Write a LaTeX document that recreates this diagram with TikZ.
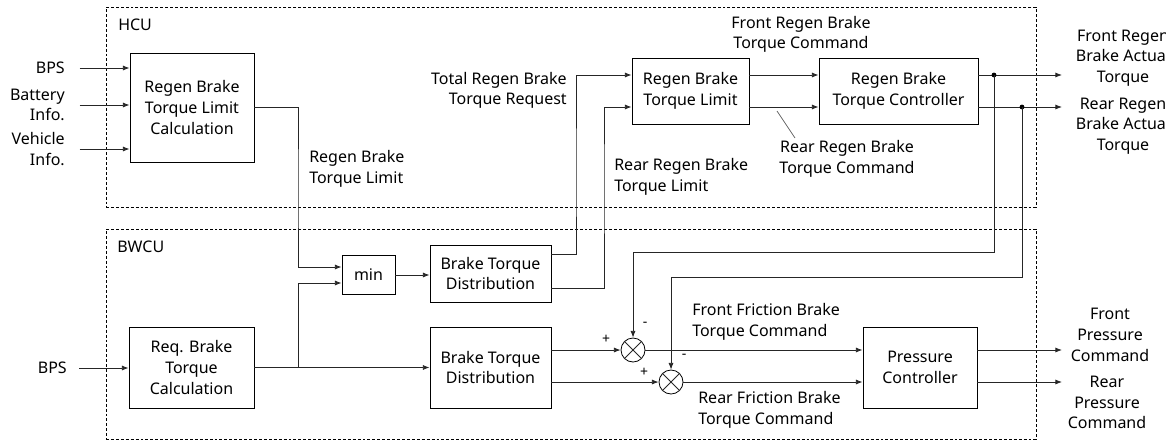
\documentclass[tikz,border=0pt]{standalone}
\usepackage{fontspec}
\setmainfont{Noto Sans}
\usepackage{tikz}
\usetikzlibrary{arrows.meta, positioning}
\tikzstyle{arrow} = [line width=0.6pt, draw=black!85, -{Latex[length=5pt,width=3.8pt]}]

\begin{document}
\begin{tikzpicture}[x=0.75pt, y=-0.75pt, font=\fontsize{12}{15.5}\selectfont]
    \tikzstyle{block} = [rectangle, draw, line width=0.7pt, align=center, inner sep=2pt]
    \tikzstyle{group} = [rectangle, draw, dash pattern=on 2.2pt off 1.5pt, line width=0.5pt, inner sep=0pt]
    \tikzstyle{txt} = [inner sep=0pt, align=center]
    \tikzstyle{sign} = [inner sep=0pt, font=\fontsize{10.5}{11}\selectfont]
    \tikzstyle{sum} = [circle, draw, minimum size=18pt, inner sep=0pt, line width=0.6pt]
    \tikzstyle{wire} = [line width=0.6pt, draw=black!85]

    \useasboundingbox (0,0) rectangle (1166,440);

    % controller groups
    \node[group, minimum width=697.5pt, minimum height=150pt] (hcu) at (571,107) {};
    \node[group, minimum width=697.5pt, minimum height=157.5pt] (bwcu) at (571,334) {};
    \node[txt, anchor=west] (hcuName) at (118,25) {HCU};
    \node[txt, anchor=west] (bwcuName) at (117,247) {BWCU};

    % blocks
    \node[block, minimum width=93pt, minimum height=81.75pt] (limCalc) at (192,107.5) {Regen Brake\\Torque Limit\\Calculation};
    \node[block, minimum width=93.75pt, minimum height=60.75pt] (reqCalc) at (191.5,367.5) {Req. Brake\\Torque\\Calculation};
    \node[block, minimum width=39.75pt, minimum height=29.25pt] (minBox) at (368.5,275) {min};
    \node[block, minimum width=90.75pt, minimum height=42.75pt] (distA) at (490.5,273.5) {Brake Torque\\Distribution};
    \node[block, minimum width=90.75pt, minimum height=60.75pt] (distB) at (490.5,367.5) {Brake Torque\\Distribution};
    \node[block, minimum width=87.75pt, minimum height=49.5pt] (regenLim) at (690.5,91) {Regen Brake\\Torque Limit};
    \node[block, minimum width=119.25pt, minimum height=49.5pt] (regenCtrl) at (898.5,91) {Regen Brake\\Torque Controller};
    \node[block, minimum width=85.5pt, minimum height=60.75pt] (pressCtrl) at (920,367.5) {Pressure\\Controller};
    \node[sum] (sumF) at (633,350) {};
    \node[sum] (sumR) at (671,382) {};
    \draw[wire] (sumF.north west) -- (sumF.south east) (sumF.north east) -- (sumF.south west);
    \draw[wire] (sumR.north west) -- (sumR.south east) (sumR.north east) -- (sumR.south west);

    % inputs
    \node[txt, anchor=east] (bpsA) at (65,68) {BPS};
    \node[txt, anchor=east, align=right] (battery) at (65,105) {Battery\\Info.};
    \node[txt, anchor=east, align=right] (vehicle) at (65,149) {Vehicle\\Info.};
    \node[txt, anchor=east] (bpsB) at (67,368) {BPS};

    % signal labels
    \node[txt, anchor=west, align=left] (limTxt) at (309,169) {Regen Brake\\Torque Limit};
    \node[txt, anchor=east, align=right] (totTxt) at (567,90.5) {Total Regen Brake\\Torque Request};
    \node[txt, anchor=west, align=left] (rearLimTxt) at (614,177) {Rear Regen Brake\\Torque Limit};
    \node[txt] (frCmdTxt) at (801,34.5) {Front Regen Brake\\Torque Command};
    \node[txt] (rrCmdTxt) at (847,158.5) {Rear Regen Brake\\Torque Command};
    \node[txt] (frActTxt) at (1123,58) {Front Regen\\Brake Actual\\Torque};
    \node[txt] (rrActTxt) at (1123,126) {Rear Regen\\Brake Actual\\Torque};
    \node[txt, anchor=west, align=left] (ffCmdTxt) at (692,322) {Front Friction Brake\\Torque Command};
    \node[txt, anchor=west, align=left] (rfCmdTxt) at (698,409.5) {Rear Friction Brake\\Torque Command};
    \node[txt] (fpTxt) at (1110,335) {Front\\Pressure\\Command};
    \node[txt] (rpTxt) at (1107,402.5) {Rear\\Pressure\\Command};
    \node[sign] at (606,339) {+};
    \node[sign] at (644,372) {+};
    \node[sign] at (645,324) {-};
    \node[sign] at (684,356) {-};

    % bends and free ends
    \coordinate (busLim) at (298,190);
    \coordinate (busTot) at (576,180);
    \coordinate (busRear) at (604,180);
    \coordinate (tapF) at (994,75);
    \coordinate (tapR) at (1022,107);
    \coordinate (fbF) at (994,252);
    \coordinate (fbR) at (1022,277);
    \coordinate (outF) at (1062,75);
    \coordinate (outR) at (1062,107);
    \coordinate (outFP) at (1062,350);
    \coordinate (outRP) at (1062,382);

    % connectors
    \draw[arrow] ([xshift=11pt]bpsA.east) -- (bpsA -| limCalc.west);
    \draw[arrow] ([xshift=11pt]battery.east) -- (battery -| limCalc.west);
    \draw[arrow] ([xshift=11pt]vehicle.east) -- (vehicle -| limCalc.west);
    \draw[arrow] ([xshift=9pt]bpsB.east) -- (bpsB -| reqCalc.west);
    \draw[arrow] (limCalc.east) -| (busLim) |- ([yshift=6pt]minBox.west);
    \draw[arrow] (reqCalc.east) -- (distB.west);
    \draw[arrow] (reqCalc.east -| busLim) |- ([yshift=-6pt]minBox.west);
    \draw[arrow] (minBox.east) -- (minBox.east -| distA.west);
    \draw[arrow] ([yshift=14pt]distA.east) -| (busTot) |- ([yshift=12pt]regenLim.west);
    \draw[arrow] ([yshift=-11.5pt]distA.east) -| (busRear) |- ([yshift=-12pt]regenLim.west);
    \draw[arrow] ([yshift=12pt]regenLim.east) -- ([yshift=12pt]regenCtrl.west);
    \draw[arrow] ([yshift=-12pt]regenLim.east) -- ([yshift=-12pt]regenCtrl.west);
    \draw[wire, black!60] (777,111) -- (795,138);
    \draw[arrow] ([yshift=12pt]regenCtrl.east) -- (outF);
    \draw[arrow] ([yshift=-12pt]regenCtrl.east) -- (outR);
    \fill (tapF) circle (1.8pt);
    \fill (tapR) circle (1.8pt);
    \draw[arrow] (tapF) -- (fbF) -| (sumF.north);
    \draw[arrow] (tapR) -- (fbR) -| (sumR.north);
    \draw[arrow] (distB.east |- sumF) -- (sumF.west);
    \draw[arrow] (distB.east |- sumR) -- (sumR.west);
    \draw[arrow] (sumF.east) -- (sumF -| pressCtrl.west);
    \draw[arrow] (sumR.east) -- (sumR -| pressCtrl.west);
    \draw[arrow] (pressCtrl.east |- sumF) -- (outFP);
    \draw[arrow] (pressCtrl.east |- sumR) -- (outRP);
\end{tikzpicture}
\end{document}
